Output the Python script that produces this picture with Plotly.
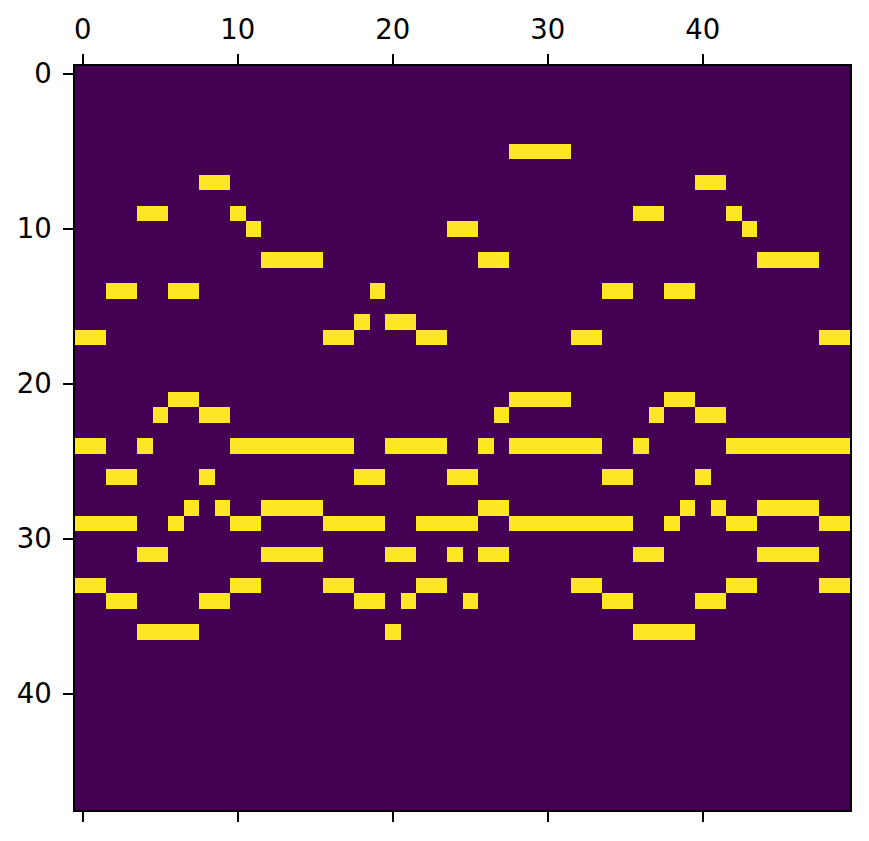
import numpy as np
import plotly.graph_objects as go

n_rows = 48
n_cols = 50

# yellow (value 1) runs per row: (first_col, last_col) inclusive
row_runs = {
    5:  [(28, 31)],
    7:  [(8, 9), (40, 41)],
    9:  [(4, 5), (10, 10), (36, 37), (42, 42)],
    10: [(11, 11), (24, 25), (43, 43)],
    12: [(12, 15), (26, 27), (44, 47)],
    14: [(2, 3), (6, 7), (19, 19), (34, 35), (38, 39)],
    16: [(18, 18), (20, 21)],
    17: [(0, 1), (16, 17), (22, 23), (32, 33), (48, 49)],
    21: [(6, 7), (28, 31), (38, 39)],
    22: [(5, 5), (8, 9), (27, 27), (37, 37), (40, 41)],
    24: [(0, 1), (4, 4), (10, 17), (20, 23), (26, 26), (28, 33), (36, 36), (42, 49)],
    26: [(2, 3), (8, 8), (18, 19), (24, 25), (34, 35), (40, 40)],
    28: [(7, 7), (9, 9), (12, 15), (26, 27), (39, 39), (41, 41), (44, 47)],
    29: [(0, 3), (6, 6), (10, 11), (16, 19), (22, 25), (28, 35), (38, 38), (42, 43), (48, 49)],
    31: [(4, 5), (12, 15), (20, 21), (24, 24), (26, 27), (36, 37), (44, 47)],
    33: [(0, 1), (10, 11), (16, 17), (22, 23), (32, 33), (42, 43), (48, 49)],
    34: [(2, 3), (8, 9), (18, 19), (21, 21), (25, 25), (34, 35), (40, 41)],
    36: [(4, 7), (20, 20), (36, 39)],
}

tick_vals = [0, 10, 20, 30, 40]

z = np.zeros((n_rows, n_cols))
for r, runs in row_runs.items():
    for a, b in runs:
        z[r, a:b + 1] = 1

fig = go.Figure(go.Heatmap(
    z=z,
    x=list(range(n_cols)),
    y=list(range(n_rows)),
    colorscale=[[0, "#440154"], [1, "#fde725"]],
    zmin=0, zmax=1,
    showscale=False,
    hoverinfo="skip",
))

axis_font = dict(family="DejaVu Sans", size=27.5, color="black")

fig.update_layout(
    width=869, height=841,
    margin=dict(l=67, r=27, t=58, b=39),
    paper_bgcolor="white",
    plot_bgcolor="white",
    showlegend=False,
    xaxis=dict(
        range=[-0.5, n_cols - 0.5],
        side="top",
        tickvals=tick_vals,
        ticks="outside", ticklen=9.7, tickwidth=2.2, tickcolor="black",
        showline=True, linecolor="black", linewidth=2.2,
        mirror="ticks",
        showgrid=False, zeroline=False,
        tickfont=axis_font,
        ticklabelstandoff=4,
        automargin=False,
    ),
    yaxis=dict(
        range=[n_rows - 0.5, -0.5],
        tickvals=tick_vals,
        ticks="outside", ticklen=9.7, tickwidth=2.2, tickcolor="black",
        showline=True, linecolor="black", linewidth=2.2,
        mirror=True,
        showgrid=False, zeroline=False,
        tickfont=axis_font,
        ticklabelstandoff=6,
        automargin=False,
    ),
)

fig.write_html("out.html")
